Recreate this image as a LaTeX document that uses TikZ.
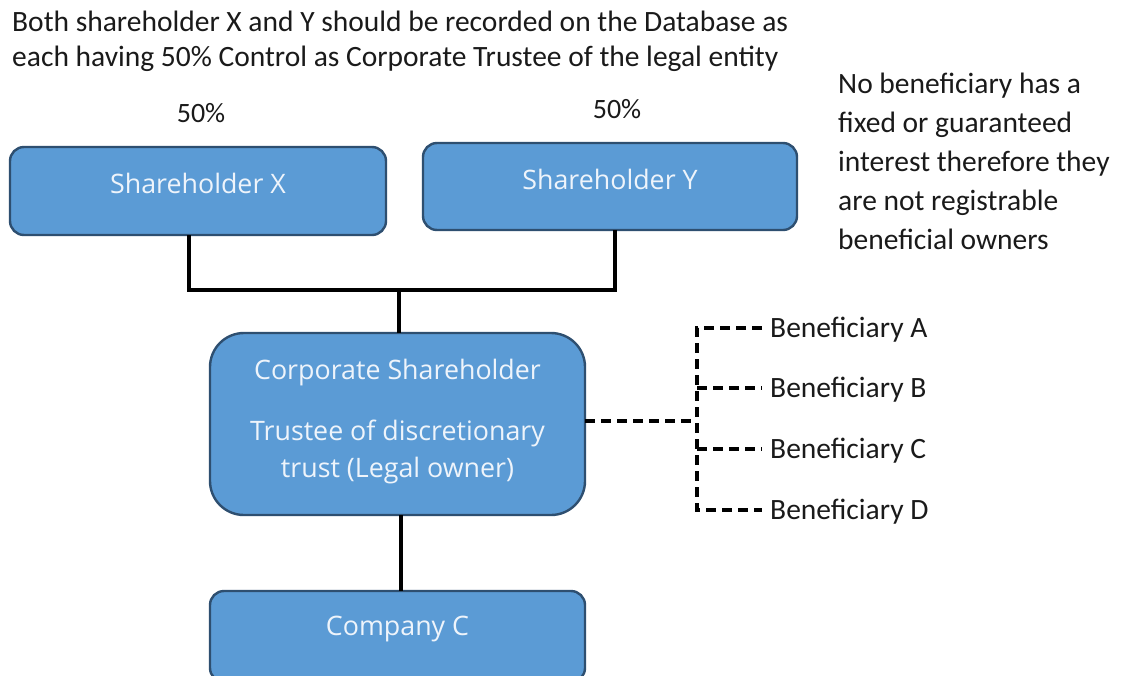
\documentclass[tikz,border=0pt]{standalone}
\usepackage{fontspec}
\setmainfont{Carlito}
\newfontfamily\boxfont{Open Sans}
\definecolor{boxfill}{HTML}{5B9BD5}
\definecolor{boxline}{HTML}{2E4F70}
\definecolor{boxtext}{HTML}{EEF4FB}
\definecolor{inktext}{HTML}{1A1A1A}
\begin{document}
\begin{tikzpicture}[x=1pt,y=-1pt,
  entity/.style={draw=boxline, line width=2.4pt, fill=boxfill, inner sep=0pt},
  boxlabel/.style={text=boxtext, font=\boxfont\fontsize{26.8}{30}\selectfont, inner sep=0pt, anchor=center},
  note/.style={text=inktext, font=\fontsize{29.5}{39}\selectfont, inner sep=0pt, anchor=west, align=left},
  pct/.style={text=inktext, font=\fontsize{28}{30}\selectfont, inner sep=0pt},
  benef/.style={text=inktext, font=\fontsize{29.5}{32}\selectfont, inner sep=0pt, anchor=west},
  tie/.style={draw=black, line width=3.2pt},
  dashtie/.style={draw=black, line width=3.2pt, dash pattern=on 10pt off 6pt}
]
\useasboundingbox (0,0) rectangle (1123,675);
\fill[white] (0,0) rectangle (1123,675);

% heading and side note
\node[note, anchor=north west, font=\fontsize{29.5}{35}\selectfont] (head) at (12,11)
  {Both shareholder X and Y should be recorded on the Database as\\each having 50\% Control as Corporate Trustee of the legal entity};
\node[note, anchor=north west, font=\fontsize{29.5}{39}\selectfont] (side) at (838,73)
  {No beneficiary has a\\fixed or guaranteed\\interest therefore they\\are not registrable\\beneficial owners};

% percentages
\node[pct] (px) at (201,113) {50\%};
\node[pct] (py) at (617,109) {50\%};

% shareholder boxes
\draw[entity, rounded corners=14pt] (10,147) rectangle (386,235);
\node[inner sep=0pt, minimum width=376pt, minimum height=88pt] (shx) at (198,191) {};
\node[boxlabel] (shxl) at (198,183) {Shareholder X};
\draw[entity, rounded corners=14pt] (423,143) rectangle (797,230);
\node[inner sep=0pt, minimum width=374pt, minimum height=87pt] (shy) at (610,186.5) {};
\node[boxlabel] (shyl) at (610,179) {Shareholder Y};

% corporate trustee box
\draw[entity, rounded corners=34pt] (210,333) rectangle (585,515);
\node[inner sep=0pt, minimum width=375pt, minimum height=182pt] (corp) at (397.5,424) {};
\node[boxlabel] (corpa) at (397.5,373) {Corporate Shareholder};
\node[boxlabel, align=center, font=\boxfont\fontsize{26.8}{37}\selectfont] (corpb) at (397.5,452) {Trustee of discretionary\\trust (Legal owner)};

% company box
\draw[entity, rounded corners=14pt] (210,591) rectangle (585,682);
\node[inner sep=0pt, minimum width=375pt, minimum height=84pt] (comp) at (397.5,633) {};
\node[boxlabel] (compl) at (397.5,629) {Company C};

% solid ownership connectors
\coordinate (jt) at (399,290);
\draw[tie] (189,235) |- (jt) -| (615,230);
\draw[tie] (jt) -- (399,333);
\draw[tie] (401,515) -- (401,591);

% beneficiaries
\node[benef] (ba) at (770,330) {Beneficiary A};
\node[benef] (bb) at (770,390) {Beneficiary B};
\node[benef] (bc) at (770,451) {Beneficiary C};
\node[benef] (bd) at (770,512) {Beneficiary D};

% discretionary (dashed) links
\coordinate (bus) at (697,421);
\draw[dashtie] (corp.east |- bus) -- (bus);
\draw[dashtie] (762,328) -- (697,328) -- (697,510) -- (762,510);
\draw[dashtie] (697,388) -- (762,388);
\draw[dashtie] (697,449) -- (762,449);
\end{tikzpicture}
\end{document}
